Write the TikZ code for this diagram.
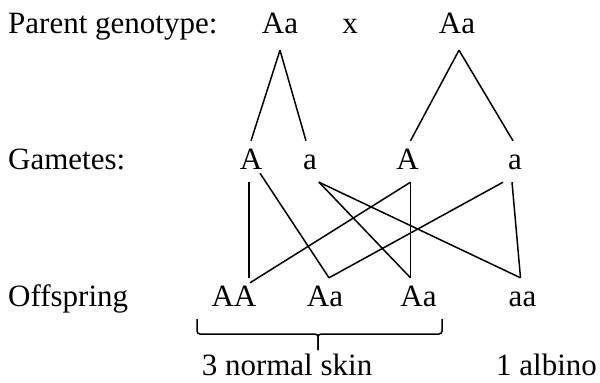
\documentclass[tikz,border=0pt]{standalone}
\usepackage{fontspec}
\setmainfont{Liberation Serif}
\usepackage{tikz}

\begin{document}
\begin{tikzpicture}[
  x=1pt,y=-1pt,
  lbl/.style={anchor=base west,inner sep=0pt,font=\fontsize{31}{36}\selectfont},
  gene/.style={anchor=base,inner xsep=0pt,inner ysep=7pt,text height=21pt,text depth=6pt,font=\fontsize{31}{36}\selectfont},
  ln/.style={line width=1.5pt,draw=black}
]
\useasboundingbox (0,0) rectangle (600,383);
\node[lbl] (lpar) at (8,33) {Parent genotype:};
\node[lbl] (lgam) at (8,169) {Gametes:};
\node[lbl] (loff) at (8,306) {Offspring};
\node[gene,text depth=10pt] (par1) at (280,33) {Aa};
\node[gene] (cross) at (350,33) {x};
\node[gene,text depth=10pt] (par2) at (457,33) {Aa};
\node[gene] (g1) at (251,169) {A};
\node[gene] (g2) at (310,169) {a};
\node[gene] (g3) at (407.5,169) {A};
\node[gene] (g4) at (515,169) {a};
\node[gene] (off1) at (234,306) {AA};
\node[gene] (off2) at (325,306) {Aa};
\node[gene] (off3) at (418.5,306) {Aa};
\node[gene] (off4) at (522.5,306) {aa};
\node[gene] (normal) at (287,375) {3 normal skin};
\node[lbl] (albino) at (496,375) {1 albino};
\draw[ln] (par1.south)--(g1.north);
\draw[ln] (par1.south)--([xshift=-4pt]g2.north);
\draw[ln] ([xshift=2pt]par2.south)--([xshift=3pt]g3.north);
\draw[ln] ([xshift=2pt]par2.south)--([xshift=-2pt]g4.north);
\draw[ln] ([xshift=-2pt]g1.south)--([xshift=15pt]off1.north);
\draw[ln] ([xshift=9pt,yshift=9pt]g1.south)--([xshift=4pt]off2.north);
\draw[ln] ([xshift=9pt]g2.south)--([xshift=-8pt]off3.north);
\draw[ln] ([xshift=9pt]g2.south)--([xshift=-2pt]off4.north);
\draw[ln] ([xshift=3pt]g3.south)--([xshift=-8pt]off3.north);
\draw[ln] ([xshift=3pt]g3.south)--([xshift=16pt,yshift=-5pt]off1.north);
\draw[ln] ([xshift=-12pt]g4.south)--([xshift=4pt]off2.north);
\draw[ln] ([xshift=-3pt]g4.south)--([xshift=-2pt]off4.north);
\coordinate (bl) at (197,319);
\coordinate (br) at (442,319);
\coordinate (btip) at (318,350);
\draw[ln,rounded corners=3pt] (bl) |- (btip |- 0,334) -- (btip);
\draw[ln,rounded corners=3pt] (br) |- (btip |- 0,334) -- (btip);
\end{tikzpicture}
\end{document}
